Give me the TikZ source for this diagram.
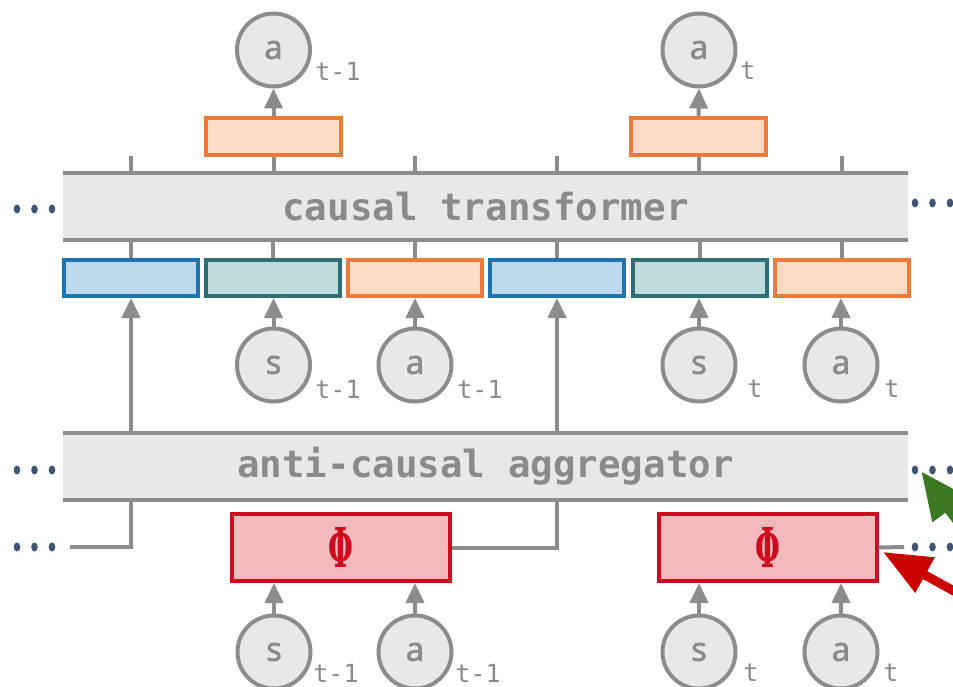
\documentclass[tikz,border=0pt]{standalone}
\usepackage{fontspec}
\setmainfont{Open Sans}
\setmonofont{DejaVu Sans Mono}
\newfontfamily\circfont[FakeBold=2]{Open Sans}
\newfontfamily\phifont{DejaVu Serif}
\usetikzlibrary{arrows.meta}
\definecolor{gline}{HTML}{8C8C8C}
\definecolor{gfill}{HTML}{E8E8E8}
\definecolor{gtext}{HTML}{8A8A8A}
\definecolor{bbord}{HTML}{1F72B0}
\definecolor{bfill}{HTML}{BDD7EB}
\definecolor{tbord}{HTML}{2F6E72}
\definecolor{tfill}{HTML}{C0DBDB}
\definecolor{obord}{HTML}{EE7A3A}
\definecolor{ofill}{HTML}{FDDBC4}
\definecolor{rbord}{HTML}{CF0A1F}
\definecolor{rfill}{HTML}{F4B9BC}
\definecolor{dotc}{HTML}{3F5570}
\definecolor{garrow}{HTML}{3B7A23}
\definecolor{rarrow}{HTML}{CC0000}
\tikzset{
  gl/.style={draw=gline,line width=4pt},
  garr/.style={gl,-{Triangle[length=20pt,width=18pt]}},
  band/.style={fill=gfill,draw=none,minimum width=845pt,minimum height=67pt,inner sep=0pt,
    text=gtext,font=\ttfamily\bfseries\fontsize{37.5}{37.5}\selectfont},
  tok/.style={line width=4pt,minimum width=134pt,minimum height=36pt,inner sep=0pt},
  btok/.style={tok,draw=bbord,fill=bfill},
  ttok/.style={tok,draw=tbord,fill=tfill},
  otok/.style={tok,draw=obord,fill=ofill},
  phibox/.style={line width=4pt,draw=rbord,fill=rfill,minimum width=218pt,minimum height=67pt,inner sep=0pt,
    text=rbord},
  var/.style={circle,draw=gline,fill=gfill,line width=4pt,minimum size=73pt,inner sep=0pt,
    text=gtext,font=\circfont\fontsize{33}{33}\selectfont},
  sub/.style={text=gtext,font=\ttfamily\fontsize{25}{25}\selectfont,inner sep=0pt},
  dot/.style={fill=dotc,draw=none},
}
\newcommand{\phisym}{\raisebox{-3pt}{\scalebox{0.52}[1]{\phifont\bfseries\fontsize{55}{55}\selectfont Φ}}}
\newcommand{\tdots}[2]{\fill[dot] (#1,#2) ellipse (3.3pt and 4.5pt) (#1+17.5,#2) ellipse (3.3pt and 4.5pt) (#1+35,#2) ellipse (3.3pt and 4.5pt);}
\begin{document}
\begin{tikzpicture}[x=1pt,y=-1pt]
\useasboundingbox (0,0) rectangle (953,687);
\clip (0,0) rectangle (953,687);
% bands
\node[band] (ct) at (485.5,206.5) {causal transformer};
\draw[gl] (ct.north west) -- (ct.north east);
\draw[gl] (ct.south west) -- (ct.south east);
\node[band] (ag) at (485.5,466.5) {anti-causal aggregator};
\draw[gl] (ag.north west) -- (ag.north east);
\draw[gl] (ag.south west) -- (ag.south east);
% token row
\node[btok] (k1) at (131,278) {};
\node[ttok] (k2) at (272.5,278) {};
\node[otok] (k3) at (414.5,278) {};
\node[btok] (k4) at (557,278) {};
\node[ttok] (k5) at (699.5,278) {};
\node[otok] (k6) at (841.5,278) {};
% ticks between band and tokens
\foreach \k in {k1,k2,k3,k4,k5,k6}{
  \draw[gl] (\k.north) -- (\k.north |- ct.south);
}
% top output boxes
\node[otok,minimum width=135pt,minimum height=37pt] (o1) at (273.5,136.5) {};
\node[otok,minimum width=135pt,minimum height=37pt] (o2) at (698.5,136.5) {};
\foreach \k in {k1,k3,k4,k6}{
  \draw[gl] (\k.north |- ct.north) -- ++(0,-17);
}
\draw[gl] (o1.south |- ct.north) -- (o1.south);
\draw[gl] (o2.south |- ct.north) -- (o2.south);
% top outputs
\node[var] (ya1) at (273.5,50) {a};
\node[var] (ya2) at (699,50) {a};
\node[sub] at (338,71) {t-1};
\node[sub] at (748,71) {t};
\draw[garr] (o1.north) -- (ya1.south);
\draw[garr] (o2.north) -- (ya2.south);
% middle inputs
\node[var] (ms1) at (273.5,365) {s};
\node[var] (ma1) at (415,365) {a};
\node[var] (ms2) at (699,365) {s};
\node[var] (ma2) at (841,365) {a};
\node[sub] at (338,389) {t-1};
\node[sub] at (480,389) {t-1};
\node[sub] at (755,389) {t};
\node[sub] at (892,389) {t};
\draw[garr] (ms1.north) -- (ms1.north |- k2.south);
\draw[garr] (ma1.north) -- (ma1.north |- k3.south);
\draw[garr] (ms2.north) -- (ms2.north |- k5.south);
\draw[garr] (ma2.north) -- (ma2.north |- k6.south);
% aggregator to blue tokens
\draw[garr] (k1.south |- ag.north) -- (k1.south);
\draw[garr] (k4.south |- ag.north) -- (k4.south);
% phi boxes
\node[phibox] (p1) at (341,547.5) {\phisym};
\node[phibox] (p2) at (767.5,547.5) {\phisym};
\coordinate (lin) at (70,547);
\coordinate (rout) at (904,547);
\draw[gl] (lin) -| (k1.south |- ag.south);
\draw[gl] (p1.east) -| (k4.south |- ag.south);
\draw[gl] (p2.east) -- (rout);
% bottom inputs
\node[var] (bs1) at (274,652) {s};
\node[var] (ba1) at (415,652) {a};
\node[var] (bs2) at (699,652) {s};
\node[var] (ba2) at (841,652) {a};
\node[sub] at (336,673) {t-1};
\node[sub] at (478,673) {t-1};
\node[sub] at (751,673) {t};
\node[sub] at (891,673) {t};
\draw[garr] (bs1.north) -- (bs1.north |- p1.south);
\draw[garr] (ba1.north) -- (ba1.north |- p1.south);
\draw[garr] (bs2.north) -- (bs2.north |- p2.south);
\draw[garr] (ba2.north) -- (ba2.north |- p2.south);
% dots
\tdots{17}{209}
\tdots{915}{203}
\tdots{17}{470}
\tdots{915}{470}
\tdots{17}{547}
\tdots{915}{547}
% annotation arrows
\coordinate (gtip) at (921,471);
\coordinate (gtail) at (1010,590);
\draw[draw=garrow,line width=11pt,-{Triangle[length=48pt,width=40pt]}] (gtail) -- (gtip);
\coordinate (rtip) at (883,552);
\coordinate (rtail) at (1014,624);
\draw[draw=rarrow,line width=9pt,-{Triangle[length=48pt,width=38pt]}] (rtail) -- (rtip);
\end{tikzpicture}
\end{document}
